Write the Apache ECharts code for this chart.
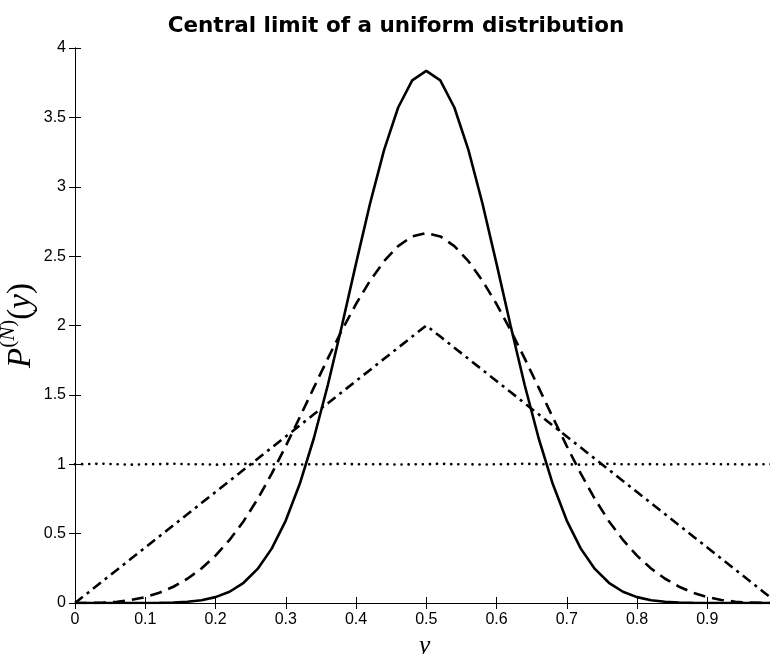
<!DOCTYPE html>
<html>
<head>
<meta charset="utf-8">
<script src="https://cdn.jsdelivr.net/npm/echarts@6/dist/echarts.min.js"></script>
<style>
  html, body { margin: 0; padding: 0; background: #fff; }
  #chart { width: 770px; height: 654px; }
</style>
</head>
<body>
<div id="chart"></div>
<script>
// sample positions along y
const xs = [0, 0.02, 0.04, 0.06, 0.08, 0.1, 0.12, 0.14, 0.16, 0.18, 0.2, 0.22, 0.24, 0.26, 0.28, 0.3, 0.32, 0.34, 0.36, 0.38, 0.4, 0.42, 0.44, 0.46, 0.48, 0.5,
  0.52, 0.54, 0.56, 0.58, 0.6, 0.62, 0.64, 0.66, 0.68, 0.7, 0.72, 0.74, 0.76, 0.78, 0.8, 0.82, 0.84, 0.86, 0.88, 0.9, 0.92, 0.94, 0.96, 0.98, 1];

// N = 1 (dotted)
const p1 = [1.000, 1.002, 1.004, 1.000, 0.997, 1.000, 1.001, 1.004, 1.000, 1.000, 0.997, 1.000, 1.003, 1.000, 1.000, 1.001, 0.998, 1.000, 1.000, 1.004, 1.000, 1.000, 1.001, 0.997, 1.000, 1.000,
  1.004, 1.000, 1.000, 0.998, 1.000, 1.001, 1.004, 1.000, 1.000, 1.000, 0.997, 1.000, 1.004, 1.000, 1.000, 1.001, 0.998, 1.000, 1.000, 1.004, 1.000, 1.000, 0.998, 1.000, 1.000];

// N = 2 (dash-dot)
const p2 = [0, 0.08, 0.16, 0.24, 0.32, 0.40, 0.48, 0.56, 0.64, 0.72, 0.80, 0.88, 0.96, 1.04, 1.12, 1.20, 1.28, 1.36, 1.44, 1.52, 1.60, 1.68, 1.76, 1.84, 1.92, 2.00,
  1.92, 1.84, 1.76, 1.68, 1.60, 1.52, 1.44, 1.36, 1.28, 1.20, 1.12, 1.04, 0.96, 0.88, 0.80, 0.72, 0.64, 0.56, 0.48, 0.40, 0.32, 0.24, 0.16, 0.08, 0];

// N = 4 (dashed)
const p4 = [0, 0.0003, 0.0027, 0.0092, 0.0219, 0.0427, 0.0737, 0.1171, 0.1748, 0.2488, 0.3413, 0.4543, 0.5898, 0.7497, 0.9320, 1.1307, 1.3396, 1.5526, 1.7635, 1.9663, 2.1547, 2.3226, 2.4639, 2.5725, 2.6421, 2.6667,
  2.6421, 2.5725, 2.4639, 2.3226, 2.1547, 1.9663, 1.7635, 1.5526, 1.3396, 1.1307, 0.9320, 0.7497, 0.5898, 0.4543, 0.3413, 0.2488, 0.1748, 0.1171, 0.0737, 0.0427, 0.0219, 0.0092, 0.0027, 0.0003, 0];

// N = 8 (solid)
const p8 = [0, 0, 0, 0, 0.0001, 0.0003, 0.0012, 0.0035, 0.0089, 0.0203, 0.0423, 0.0812, 0.1456, 0.2456, 0.3919, 0.5942, 0.8590, 1.1874, 1.5727, 2.0001, 2.4457, 2.8790, 3.2653, 3.5710, 3.7672, 3.8349,
  3.7672, 3.5710, 3.2653, 2.8790, 2.4457, 2.0001, 1.5727, 1.1874, 0.8590, 0.5942, 0.3919, 0.2456, 0.1456, 0.0812, 0.0423, 0.0203, 0.0089, 0.0035, 0.0012, 0.0003, 0.0001, 0, 0, 0, 0];

const chart = echarts.init(document.getElementById('chart'));

const pair = ys => xs.map((x, i) => [x, ys[i]]);
const tickFont = { color: '#000', fontSize: 16, fontFamily: 'Liberation Sans' };
const serif = 'Liberation Serif';

function line(data, type, cap) {
  return {
    type: 'line',
    data: pair(data),
    showSymbol: false,
    symbol: 'none',
    silent: true,
    clip: true,
    lineStyle: { color: '#000', width: 2.6, type, cap: cap || 'butt' }
  };
}

chart.setOption({
  animation: false,
  title: {
    text: 'Central limit of a uniform distribution',
    left: 391,
    textAlign: 'center',
    top: 10,
    textStyle: { fontFamily: 'DejaVu Sans', fontWeight: 'bold', fontSize: 21.5, color: '#000' }
  },
  grid: { left: 75, right: -4, top: 48, bottom: 51, outerBoundsMode: 'none', containLabel: false },
  xAxis: [{
    type: 'value', min: 0, max: 0.995, interval: 0.1,
    name: 'y', nameLocation: 'middle', nameGap: 29,
    nameTextStyle: { fontFamily: serif, fontStyle: 'italic', fontSize: 26, color: '#000' },
    axisLine: { lineStyle: { color: '#000', width: 1 } },
    axisTick: { inside: true, length: 6, lineStyle: { color: '#000' } },
    axisLabel: Object.assign({ margin: 9, showMaxLabel: false }, tickFont),
    splitLine: { show: false }
  }, {
    type: 'value', position: 'top', min: 0, max: 0.995, interval: 0.1,
    axisLine: { lineStyle: { color: '#000', width: 1 } },
    axisTick: { inside: true, length: 6, lineStyle: { color: '#000' } },
    axisLabel: { show: false },
    splitLine: { show: false }
  }],
  yAxis: [{
    type: 'value', min: 0, max: 4, interval: 0.5,
    name: '{p|P}{s|(}{n|N}{s|)}{q|(}{v|y}{q|)}',
    nameLocation: 'middle', nameGap: 37, nameRotate: 90, nameMoveOverlap: false,
    nameTextStyle: {
      rich: {
        p: { fontFamily: serif, fontStyle: 'italic', fontSize: 33, color: '#000', lineHeight: 40, verticalAlign: 'bottom' },
        s: { fontFamily: serif, fontSize: 21, color: '#000', lineHeight: 40, verticalAlign: 'top' },
        n: { fontFamily: serif, fontStyle: 'italic', fontSize: 21, color: '#000', lineHeight: 40, verticalAlign: 'top' },
        q: { fontFamily: serif, fontSize: 33, color: '#000', lineHeight: 40, verticalAlign: 'bottom' },
        v: { fontFamily: serif, fontStyle: 'italic', fontSize: 33, color: '#000', lineHeight: 40, verticalAlign: 'bottom' }
      }
    },
    axisLine: { show: true, lineStyle: { color: '#000', width: 1 } },
    axisTick: { show: true, inside: true, length: 6, lineStyle: { color: '#000' } },
    axisLabel: Object.assign({ margin: 9 }, tickFont),
    splitLine: { show: false }
  }, {
    type: 'value', position: 'right', min: 0, max: 4, interval: 0.5,
    axisLine: { show: true, lineStyle: { color: '#000', width: 1 } },
    axisTick: { show: true, inside: true, length: 6, lineStyle: { color: '#000' } },
    axisLabel: { show: false },
    splitLine: { show: false }
  }],
  series: [
    line(p1, [0.1, 7], 'round'),
    line(p2, [10, 5, 3, 5]),
    line(p4, [12, 7]),
    line(p8, 'solid')
  ]
});
</script>
</body>
</html>
